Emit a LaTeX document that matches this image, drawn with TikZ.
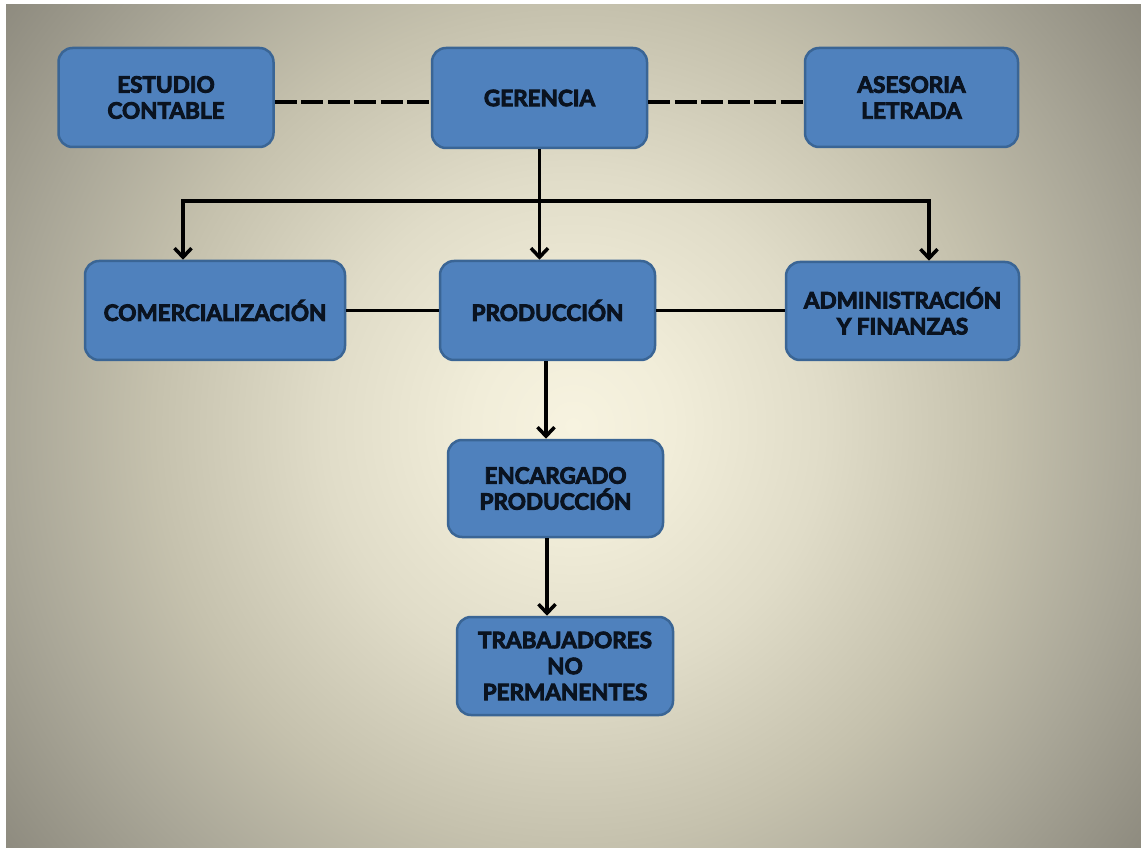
\documentclass[tikz,border=0pt]{standalone}
\usepackage{fontspec}
\setmainfont{Lato}[BoldFeatures={FakeBold=4}]
\usetikzlibrary{arrows.meta}
\definecolor{boxfill}{HTML}{4F81BD}
\definecolor{boxline}{HTML}{3A6595}
\definecolor{txt}{HTML}{0A1320}
\definecolor{bg0}{HTML}{F7F3E0}
\definecolor{bg1}{HTML}{F1EDD9}
\definecolor{bg2}{HTML}{E0DCC8}
\definecolor{bg3}{HTML}{C5C1AD}
\definecolor{bg4}{HTML}{A9A697}
\definecolor{bg5}{HTML}{8E8B7F}
\pgfdeclareradialshading{bgshade}{\pgfpoint{0bp}{0bp}}{color(0bp)=(bg0); color(3.5bp)=(bg1); color(8.85bp)=(bg2); color(14.85bp)=(bg3); color(20bp)=(bg4); color(25bp)=(bg5); color(50bp)=(bg5)}
\tikzset{
  orgbox/.style={draw=boxline, line width=2.5pt, fill=boxfill, rounded corners=14pt,
    text=txt, align=center, inner sep=0pt,
    font=\fontsize{22.5}{26}\selectfont\bfseries},
  conn/.style={line width=3.5pt, draw=black},
  arr/.style={conn, -{Straight Barb[length=9pt,width=17pt,line width=3.5pt]}},
  dashconn/.style={line width=4pt, draw=black, dash pattern=on 22pt off 4.5pt}
}
\begin{document}
\begin{tikzpicture}[x=1pt,y=-1pt]
\useasboundingbox (0,0) rectangle (1141,850);
\fill[white] (0,0) rectangle (1141,850);
\begin{scope}
\clip (6,5) rectangle (1141,847);
\shade[shading=bgshade] (-135,-282) rectangle (1281,1134);
\end{scope}

\node[orgbox, minimum width=215pt, minimum height=99pt] (estudio) at (166,97.5) {ESTUDIO\\CONTABLE};
\node[orgbox, minimum width=215pt, minimum height=100pt] (gerencia) at (539.5,98) {GERENCIA};
\node[orgbox, minimum width=213pt, minimum height=99pt] (asesoria) at (911.5,97.5) {ASESORIA\\LETRADA};
\node[orgbox, minimum width=260pt, minimum height=99pt] (comerc) at (215,310.5) {COMERCIALIZACIÓN};
\node[orgbox, minimum width=215pt, minimum height=99pt] (produccion) at (547.5,310.5) {PRODUCCIÓN};
\node[orgbox, minimum width=233pt, minimum height=98pt] (admin) at (902.5,311) {ADMINISTRACIÓN\\Y FINANZAS};
\node[orgbox, minimum width=215pt, minimum height=97pt] (encargado) at (555.5,488.5) {ENCARGADO\\PRODUCCIÓN};
\node[orgbox, minimum width=216pt, minimum height=98pt] (trabajadores) at (565,666) {TRABAJADORES\\NO\\PERMANENTES};

\coordinate (hL) at (183,201);
\coordinate (hR) at (929,201);
\coordinate (d1) at (0,102);

\draw[dashconn] (estudio.east |- d1) -- (gerencia.west |- d1);
\draw[dashconn] (gerencia.east |- d1) -- (asesoria.west |- d1);
\draw[arr] (gerencia.south) -- (produccion.north -| gerencia.south);
\draw[conn, line cap=rect] (hL) -- (hR);
\draw[arr] (hL) -- (hL |- comerc.north);
\draw[arr] (hR) -- (hR |- admin.north);
\draw[conn] (comerc.east) -- (produccion.west);
\draw[conn] (produccion.east) -- (produccion.east -| admin.west);
\coordinate (p1) at (546,0);
\draw[arr] (produccion.south -| p1) -- (encargado.north -| p1);
\coordinate (p2) at (547,0);
\draw[arr] (encargado.south -| p2) -- (trabajadores.north -| p2);
\end{tikzpicture}
\end{document}
